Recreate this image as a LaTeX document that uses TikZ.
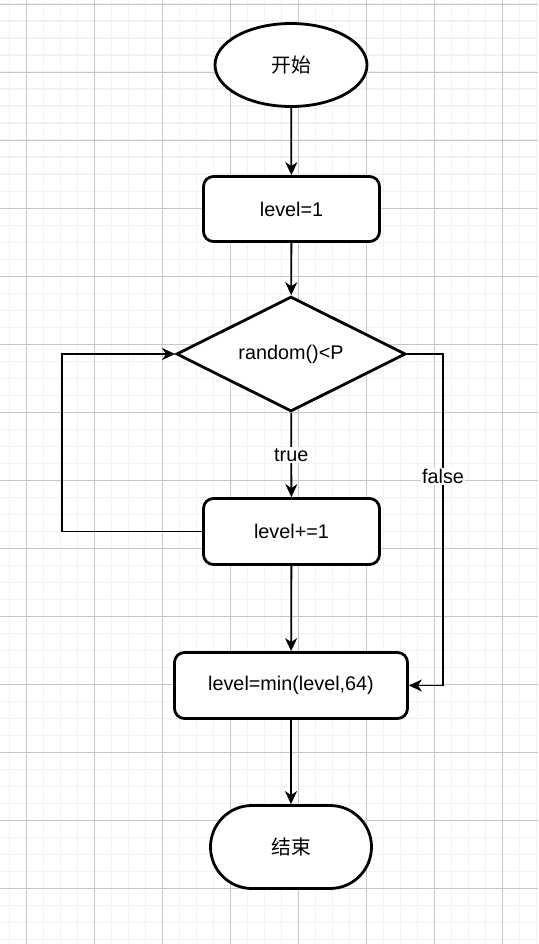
\documentclass[tikz,border=0pt]{standalone}
\usepackage{fontspec}
\setmainfont{Liberation Sans}
\newfontfamily\cjk{Noto Sans CJK SC}
\usetikzlibrary{arrows.meta,shapes.geometric}
\begin{document}
\begin{tikzpicture}[x=1pt,y=-1pt,
  minorgrid/.style={draw=black!5, line width=1.6pt},
  majorgrid/.style={draw=black!22, line width=0.9pt},
  box/.style={draw=black, line width=2.8pt, fill=white, inner sep=0pt,
    font=\fontsize{19.8}{22}\selectfont, text=black},
  rbox/.style={box, rectangle, rounded corners=10pt},
  conn/.style={draw=black, line width=1.8pt,
    -{Stealth[length=13pt,width=12pt,inset=4pt]}},
  lbl/.style={fill=white, inner sep=1.5pt, font=\fontsize{19.8}{22}\selectfont}]
\useasboundingbox (0,0) rectangle (538,944);
\fill[white] (0,0) rectangle (538,944);
% grid
\foreach \i in {0,...,31} \draw[minorgrid] ({9.5+17*\i},0) -- ({9.5+17*\i},944);
\foreach \i in {0,...,55} \draw[minorgrid] (0,{4.3+17*\i}) -- (538,{4.3+17*\i});
\foreach \i in {0,...,7} \draw[majorgrid] ({26.5+68*\i},0) -- ({26.5+68*\i},944);
\foreach \i in {0,...,13} \draw[majorgrid] (0,{4.3+68*\i}) -- (538,{4.3+68*\i});
% nodes
\node[box, ellipse, minimum width=152pt, minimum height=83pt] (start) at (291,65) {\cjk 开始};
\node[rbox, minimum width=176pt, minimum height=65pt] (l1) at (291.5,209) {level=1};
\node[box, diamond, aspect=2, minimum width=229pt, minimum height=115pt] (dec) at (291,354) {random()<P};
\node[rbox, minimum width=176pt, minimum height=66pt] (inc) at (291.5,531.5) {level+=1};
\node[rbox, minimum width=233pt, minimum height=66pt] (mn) at (291,685.5) {level=min(level,64)};
\node[box, rectangle, rounded corners=41.5pt, minimum width=161pt, minimum height=83pt] (fin) at (291,847) {\cjk 结束};
\coordinate (lp) at (62,531.5);
\coordinate (fa) at (443,354);
\coordinate (fb) at (443,685.5);
% connectors
\draw[conn] (start) -- (l1);
\draw[conn] (l1) -- (dec);
\draw[conn] (dec) -- node[lbl] {true} (inc);
\draw[conn] (inc.west) -- (lp) |- (dec.west);
\draw[conn] (dec.east) -- (fa) -- node[lbl, pos=0.37] {false} (fb) -- (mn.east);
\draw[conn] (inc) -- (mn);
\draw[conn] (mn) -- (fin);
\end{tikzpicture}
\end{document}
